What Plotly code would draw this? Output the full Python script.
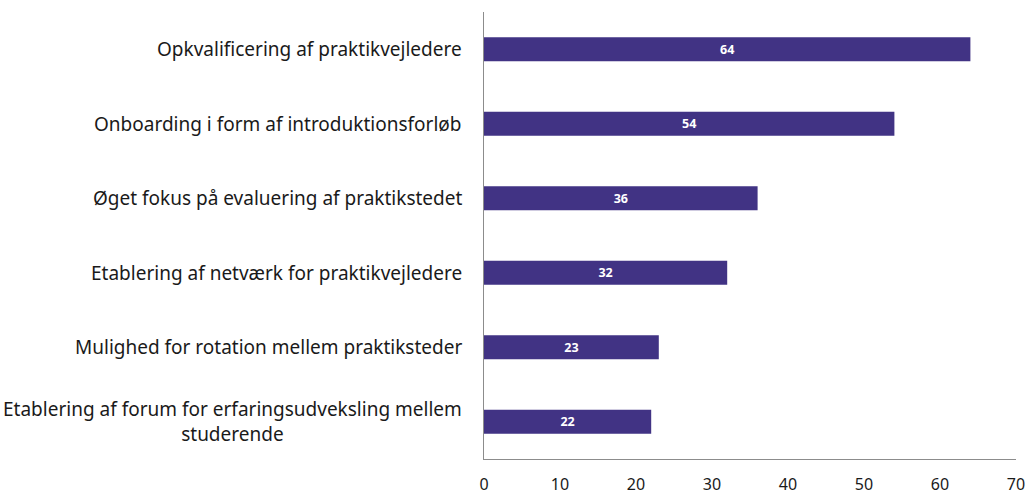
import plotly.graph_objects as go

categories = [
    "Opkvalificering af praktikvejledere",
    "Onboarding i form af introduktionsforløb",
    "Øget fokus på evaluering af praktikstedet",
    "Etablering af netværk for praktikvejledere",
    "Mulighed for rotation mellem praktiksteder",
    "Etablering af forum for erfaringsudveksling mellem<br>studerende",
]
values = [64, 54, 36, 32, 23, 22]
x_ticks = [0, 10, 20, 30, 40, 50, 60, 70]

BAR = "#413384"
FONT = "Noto Sans"

fig = go.Figure()
fig.add_trace(go.Bar(
    y=list(range(len(categories))),
    x=values,
    orientation="h",
    marker=dict(color=BAR, line=dict(width=0)),
    text=[str(v) for v in values],
    textposition="inside",
    insidetextanchor="middle",
    textfont=dict(color="white", size=12.5, family=FONT, weight="bold"),
    width=0.32,
    hoverinfo="skip",
))

for i, c in enumerate(categories):
    fig.add_annotation(
        x=-0.038, xref="paper", y=i, yref="y",
        text=c, showarrow=False, xanchor="right", yanchor="middle",
        align="center", font=dict(family=FONT, size=19, color="#1a1a1a"),
    )

fig.update_layout(
    width=1027, height=495,
    margin=dict(l=484, r=11, t=12, b=36, autoexpand=False),
    plot_bgcolor="white", paper_bgcolor="white",
    showlegend=False,
    font=dict(family=FONT, size=16, color="#1a1a1a"),
    xaxis=dict(
        range=[0, 70], tickvals=x_ticks, ticktext=[str(t) for t in x_ticks],
        showgrid=False, zeroline=False, showline=True, linecolor="#8c8c8c",
        linewidth=1, ticks="", ticklabelstandoff=11,
        tickfont=dict(size=16, color="#1a1a1a"),
    ),
    yaxis=dict(
        range=[5.5, -0.5], showticklabels=False, showgrid=False,
        zeroline=False, showline=True, linecolor="#8c8c8c", linewidth=1,
        ticks="",
    ),
)

fig.write_html(
    "out.html",
    config={"displayModeBar": False},
    post_script="document.body.style.margin='0';document.body.style.overflow='hidden';",
)
